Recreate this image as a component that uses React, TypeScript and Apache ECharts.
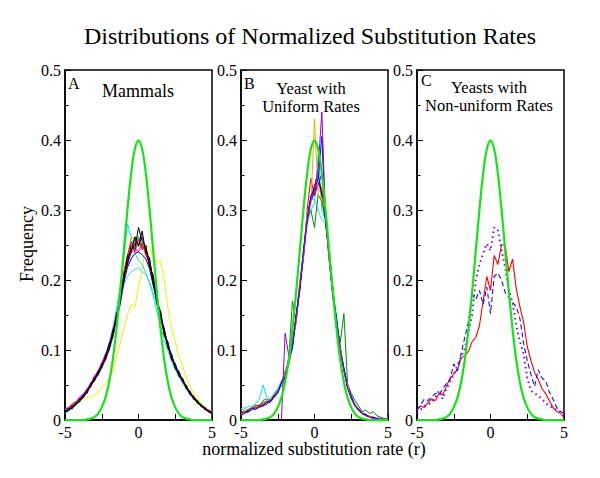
import React, { useEffect, useRef } from "react";
import * as echarts from "echarts";

const FONT = '"Liberation Serif", "Times New Roman", Times, serif';

const TITLE = "Distributions of Normalized Substitution Rates";
const X_NAME = "normalized substitution rate (r)";
const Y_NAME = "Frequency";
const PANEL_LETTERS = ["A", "B", "C"];
const PANEL_TITLES = ["Mammals", "Yeast with\nUniform Rates", "Yeasts with\nNon-uniform Rates"];

const X = [-5, -4.75, -4.5, -4.25, -4, -3.75, -3.5, -3.25, -3, -2.75, -2.5, -2.25, -2, -1.75, -1.5, -1.25, -1, -0.75, -0.5, -0.25, 0, 0.25, 0.5, 0.75, 1, 1.25, 1.5, 1.75, 2, 2.25, 2.5, 2.75, 3, 3.25, 3.5, 3.75, 4, 4.25, 4.5, 4.75, 5];

// standard normal reference curve (green)
const GAUSS = [0, 0, 0, 0, 0, 0, 0.001, 0.002, 0.004, 0.009, 0.018, 0.032, 0.054, 0.086, 0.13, 0.183, 0.242, 0.301, 0.352, 0.387, 0.399, 0.387, 0.352, 0.301, 0.242, 0.183, 0.13, 0.086, 0.054, 0.032, 0.018, 0.009, 0.004, 0.002, 0.001, 0, 0, 0, 0, 0, 0];

// Panel A: mammals
const A_YELLOW = [0.015, 0.02, 0.024, 0.027, 0.028, 0.03, 0.032, 0.033, 0.036, 0.04, 0.046, 0.052, 0.058, 0.07, 0.09, 0.11, 0.13, 0.15, 0.166, 0.16, 0.19, 0.215, 0.25, 0.245, 0.232, 0.225, 0.229, 0.2, 0.16, 0.13, 0.112, 0.09, 0.078, 0.06, 0.048, 0.038, 0.03, 0.024, 0.019, 0.015, 0.012];
const A_TURQ = [0.011, 0.014, 0.018, 0.023, 0.029, 0.035, 0.042, 0.052, 0.061, 0.07, 0.08, 0.093, 0.108, 0.126, 0.148, 0.17, 0.192, 0.205, 0.212, 0.215, 0.218, 0.212, 0.208, 0.198, 0.182, 0.164, 0.146, 0.126, 0.108, 0.092, 0.079, 0.068, 0.058, 0.048, 0.04, 0.033, 0.027, 0.022, 0.017, 0.013, 0.01];
const A_CYAN = [0.009, 0.013, 0.017, 0.021, 0.027, 0.035, 0.041, 0.052, 0.06, 0.071, 0.08, 0.093, 0.11, 0.132, 0.158, 0.19, 0.232, 0.28, 0.262, 0.238, 0.228, 0.222, 0.21, 0.195, 0.178, 0.155, 0.135, 0.115, 0.098, 0.083, 0.072, 0.061, 0.053, 0.044, 0.036, 0.03, 0.024, 0.02, 0.015, 0.012, 0.008];
const A_MAGENTA = [0.016, 0.018, 0.023, 0.026, 0.033, 0.037, 0.045, 0.052, 0.063, 0.07, 0.082, 0.094, 0.108, 0.128, 0.15, 0.176, 0.206, 0.222, 0.238, 0.246, 0.24, 0.252, 0.236, 0.222, 0.194, 0.176, 0.148, 0.13, 0.104, 0.094, 0.075, 0.07, 0.055, 0.05, 0.037, 0.034, 0.025, 0.022, 0.018, 0.014, 0.012];
const A_ORANGE = [0.011, 0.016, 0.018, 0.025, 0.027, 0.035, 0.039, 0.051, 0.056, 0.068, 0.075, 0.091, 0.102, 0.125, 0.142, 0.175, 0.2, 0.232, 0.262, 0.258, 0.25, 0.246, 0.245, 0.23, 0.196, 0.174, 0.148, 0.128, 0.105, 0.092, 0.075, 0.068, 0.055, 0.048, 0.038, 0.033, 0.025, 0.021, 0.016, 0.013, 0.009];
const A_BLUE = [0.01, 0.014, 0.018, 0.022, 0.027, 0.032, 0.04, 0.048, 0.057, 0.064, 0.075, 0.086, 0.1, 0.118, 0.142, 0.165, 0.196, 0.218, 0.23, 0.238, 0.24, 0.236, 0.23, 0.216, 0.192, 0.168, 0.146, 0.124, 0.104, 0.088, 0.075, 0.064, 0.055, 0.046, 0.038, 0.031, 0.025, 0.02, 0.016, 0.013, 0.01];
const A_VIOLET = [0.017, 0.016, 0.022, 0.025, 0.031, 0.036, 0.044, 0.049, 0.062, 0.066, 0.08, 0.088, 0.106, 0.122, 0.15, 0.17, 0.2, 0.226, 0.24, 0.258, 0.25, 0.262, 0.238, 0.224, 0.204, 0.17, 0.155, 0.125, 0.11, 0.09, 0.079, 0.065, 0.059, 0.046, 0.04, 0.033, 0.027, 0.022, 0.017, 0.014, 0.011];
const A_BROWN = [0.012, 0.015, 0.02, 0.022, 0.029, 0.033, 0.041, 0.049, 0.059, 0.066, 0.078, 0.088, 0.105, 0.122, 0.148, 0.17, 0.205, 0.226, 0.246, 0.248, 0.256, 0.246, 0.244, 0.222, 0.202, 0.17, 0.152, 0.124, 0.108, 0.089, 0.078, 0.065, 0.058, 0.046, 0.04, 0.031, 0.027, 0.02, 0.018, 0.012, 0.01];
const A_MAROON = [0.013, 0.016, 0.019, 0.024, 0.028, 0.035, 0.04, 0.051, 0.058, 0.068, 0.077, 0.09, 0.104, 0.124, 0.146, 0.174, 0.203, 0.23, 0.243, 0.252, 0.252, 0.252, 0.242, 0.228, 0.2, 0.174, 0.15, 0.128, 0.107, 0.091, 0.077, 0.067, 0.057, 0.048, 0.039, 0.033, 0.026, 0.022, 0.017, 0.013, 0.01];
const A_RED = [0.014, 0.013, 0.021, 0.021, 0.031, 0.032, 0.043, 0.047, 0.061, 0.064, 0.081, 0.085, 0.11, 0.118, 0.152, 0.165, 0.212, 0.235, 0.255, 0.24, 0.258, 0.243, 0.25, 0.218, 0.208, 0.165, 0.156, 0.12, 0.112, 0.085, 0.081, 0.062, 0.06, 0.044, 0.042, 0.029, 0.028, 0.02, 0.018, 0.011, 0.012];
const A_DKGREEN = [0.011, 0.016, 0.018, 0.024, 0.027, 0.034, 0.039, 0.051, 0.057, 0.068, 0.076, 0.09, 0.103, 0.124, 0.145, 0.173, 0.202, 0.229, 0.242, 0.251, 0.262, 0.249, 0.243, 0.225, 0.201, 0.171, 0.151, 0.125, 0.108, 0.089, 0.078, 0.065, 0.058, 0.046, 0.04, 0.031, 0.027, 0.02, 0.018, 0.012, 0.01];
const A_BLACK2 = [0.013, 0.014, 0.02, 0.022, 0.03, 0.033, 0.042, 0.048, 0.06, 0.065, 0.08, 0.086, 0.108, 0.12, 0.15, 0.168, 0.208, 0.222, 0.25, 0.245, 0.275, 0.255, 0.248, 0.22, 0.205, 0.168, 0.154, 0.122, 0.11, 0.087, 0.08, 0.063, 0.059, 0.045, 0.041, 0.03, 0.028, 0.019, 0.018, 0.012, 0.011];
const A_BLACK = [0.01, 0.017, 0.016, 0.025, 0.026, 0.036, 0.038, 0.053, 0.055, 0.07, 0.074, 0.093, 0.1, 0.128, 0.14, 0.178, 0.198, 0.235, 0.24, 0.262, 0.248, 0.27, 0.238, 0.232, 0.195, 0.178, 0.145, 0.131, 0.103, 0.094, 0.073, 0.069, 0.054, 0.05, 0.036, 0.034, 0.024, 0.022, 0.015, 0.014, 0.008];

// Panel B: yeast, uniform rates
const B_GREY = [0.016, 0.018, 0.014, 0.02, 0.022, 0.018, 0.025, 0.028, 0.03, 0.036, 0.044, 0.056, 0.07, 0.085, 0.112, 0.15, 0.194, 0.236, 0.29, 0.312, 0.326, 0.332, 0.32, 0.286, 0.232, 0.182, 0.142, 0.104, 0.074, 0.049, 0.032, 0.022, 0.015, 0.01, 0.007, 0.005, 0.004, 0.003, 0.002, 0.001, 0.001];
const B_CYAN = [0.014, 0.016, 0.02, 0.018, 0.024, 0.03, 0.05, 0.033, 0.03, 0.038, 0.045, 0.056, 0.06, 0.09, 0.1, 0.15, 0.185, 0.23, 0.28, 0.3, 0.31, 0.38, 0.3, 0.285, 0.245, 0.18, 0.15, 0.098, 0.075, 0.05, 0.034, 0.022, 0.016, 0.01, 0.008, 0.005, 0.004, 0.003, 0.002, 0.001, 0.001];
const B_TURQ = [0.011, 0.012, 0.015, 0.017, 0.02, 0.022, 0.024, 0.026, 0.03, 0.034, 0.042, 0.054, 0.068, 0.085, 0.11, 0.145, 0.188, 0.232, 0.29, 0.315, 0.315, 0.3, 0.285, 0.282, 0.24, 0.185, 0.142, 0.105, 0.074, 0.05, 0.033, 0.023, 0.016, 0.011, 0.008, 0.005, 0.004, 0.003, 0.002, 0.001, 0.001];
const B_DKGREEN = [0.009, 0.013, 0.011, 0.016, 0.021, 0.018, 0.028, 0.03, 0.026, 0.036, 0.042, 0.048, 0.06, 0.088, 0.17, 0.14, 0.188, 0.236, 0.288, 0.3, 0.275, 0.322, 0.312, 0.286, 0.238, 0.19, 0.14, 0.11, 0.152, 0.052, 0.038, 0.028, 0.02, 0.012, 0.014, 0.009, 0.012, 0.006, 0.004, 0.002, 0.001];
const B_MAGENTA = [0.008, 0.011, 0.013, 0.015, 0.018, 0.02, 0.022, 0.025, 0.028, 0.033, 0.04, 0.053, 0.066, 0.084, 0.11, 0.148, 0.195, 0.24, 0.29, 0.32, 0.328, 0.34, 0.322, 0.29, 0.23, 0.178, 0.138, 0.1, 0.07, 0.047, 0.031, 0.021, 0.014, 0.01, 0.007, 0.005, 0.003, 0.002, 0.001, 0.001, 0];
const B_RED = [0.012, 0.011, 0.015, 0.017, 0.02, 0.021, 0.024, 0.026, 0.03, 0.034, 0.042, 0.05, 0.068, 0.08, 0.112, 0.14, 0.196, 0.232, 0.3, 0.345, 0.32, 0.338, 0.33, 0.294, 0.236, 0.182, 0.138, 0.104, 0.073, 0.049, 0.033, 0.022, 0.015, 0.01, 0.007, 0.005, 0.004, 0.002, 0.002, 0.001, 0.001];
const B_BLACK = [0.01, 0.012, 0.014, 0.016, 0.018, 0.02, 0.022, 0.025, 0.028, 0.033, 0.041, 0.051, 0.064, 0.083, 0.106, 0.146, 0.19, 0.236, 0.292, 0.316, 0.335, 0.35, 0.322, 0.288, 0.234, 0.178, 0.141, 0.101, 0.072, 0.047, 0.032, 0.021, 0.015, 0.01, 0.007, 0.005, 0.003, 0.002, 0.001, 0.001, 0];
const B_INDIGO = [0.007, 0.01, 0.012, 0.015, 0.016, 0.018, 0.02, 0.023, 0.026, 0.031, 0.039, 0.051, 0.064, 0.08, 0.106, 0.142, 0.19, 0.236, 0.288, 0.312, 0.326, 0.336, 0.352, 0.292, 0.23, 0.18, 0.142, 0.103, 0.071, 0.048, 0.031, 0.022, 0.014, 0.009, 0.006, 0.005, 0.003, 0.002, 0.001, 0, 0];
const B_ORANGE = [0.008, 0.012, 0.016, 0.015, 0.019, 0.019, 0.023, 0.025, 0.03, 0.031, 0.041, 0.05, 0.066, 0.08, 0.11, 0.142, 0.198, 0.234, 0.296, 0.305, 0.43, 0.32, 0.318, 0.296, 0.226, 0.185, 0.136, 0.104, 0.07, 0.05, 0.03, 0.024, 0.014, 0.011, 0.006, 0.006, 0.002, 0.003, 0.001, 0.001, 0];
const B_BLUE = [0.006, 0.01, 0.012, 0.017, 0.015, 0.02, 0.02, 0.026, 0.026, 0.034, 0.038, 0.054, 0.062, 0.086, 0.104, 0.15, 0.186, 0.244, 0.282, 0.32, 0.33, 0.345, 0.405, 0.28, 0.236, 0.176, 0.146, 0.098, 0.074, 0.046, 0.034, 0.02, 0.016, 0.009, 0.008, 0.004, 0.003, 0.002, 0.001, 0, 0];
const B_PURPLE = [null, null, null, null, null, null, null, null, null, null, null, 0, 0.124, 0.092, 0.112, 0.148, 0.192, 0.24, 0.288, 0.315, 0.33, 0.36, 0.44, 0.29, 0.228, 0.176, 0.138, 0.1, 0.07, 0.046, 0.03, 0.02, 0.013, 0.009, 0.006, 0.004, 0.002, 0.001, 0, 0, 0];

// Panel C: yeasts, non-uniform rates
const C_RED = [0.015, 0.02, 0.018, 0.025, 0.03, 0.028, 0.038, 0.036, 0.048, 0.06, 0.066, 0.072, 0.088, 0.092, 0.098, 0.112, 0.118, 0.135, 0.17, 0.205, 0.185, 0.235, 0.222, 0.25, 0.25, 0.212, 0.23, 0.188, 0.162, 0.14, 0.105, 0.085, 0.068, 0.058, 0.045, 0.038, 0.028, 0.018, 0.012, 0.01, 0.003];
const C_BLUE = [0.014, 0.022, 0.03, 0.028, 0.033, 0.038, 0.036, 0.045, 0.052, 0.058, 0.08, 0.07, 0.095, 0.118, 0.14, 0.18, 0.172, 0.185, 0.165, 0.19, 0.152, 0.205, 0.21, 0.2, 0.182, 0.175, 0.168, 0.162, 0.145, 0.11, 0.085, 0.065, 0.048, 0.072, 0.06, 0.056, 0.04, 0.03, 0.018, 0.012, 0.01];
const C_PURPLE = [0.01, 0.015, 0.02, 0.022, 0.025, 0.032, 0.042, 0.03, 0.045, 0.055, 0.065, 0.078, 0.09, 0.102, 0.125, 0.15, 0.2, 0.222, 0.238, 0.252, 0.242, 0.275, 0.272, 0.243, 0.218, 0.185, 0.168, 0.135, 0.112, 0.095, 0.06, 0.042, 0.038, 0.035, 0.03, 0.024, 0.02, 0.018, 0.014, 0.012, 0.006];

const pairs = (ys: (number | null)[]) => X.map((x, i) => [x, ys[i] === null ? "-" : ys[i]]);

const thin = (ys: (number | null)[], color: string, gi: number, extra: any = {}) => ({
  type: "line",
  xAxisIndex: gi,
  yAxisIndex: gi,
  data: pairs(ys),
  symbol: "none",
  silent: true,
  lineStyle: { color, width: 1, ...extra },
});

const green = (gi: number) => ({
  type: "line",
  xAxisIndex: gi,
  yAxisIndex: gi,
  data: pairs(GAUSS),
  symbol: "none",
  silent: true,
  smooth: 0.4,
  lineStyle: { color: "#14e614", width: 2.2 },
});

const GRID_LEFTS = [65, 241, 417];
const GRID_W = 147;
const GRID_TOP = 70;
const GRID_H = 350;

export default function App() {
  const ref = useRef<HTMLDivElement>(null);
  useEffect(() => {
    if (!ref.current) return;
    const chart = echarts.init(ref.current, null, { renderer: "svg" });
    const grid = GRID_LEFTS.map((l) => ({
      left: l,
      top: GRID_TOP,
      width: GRID_W,
      height: GRID_H,
      show: true,
      borderColor: "#000",
      borderWidth: 1.5,
      backgroundColor: "transparent",
    }));
    const xAxis = GRID_LEFTS.map((_, i) => ({
      type: "value",
      gridIndex: i,
      min: -5,
      max: 5,
      interval: 5,
      axisLine: { show: true, onZero: false, lineStyle: { color: "#000", width: 1.5 } },
      axisTick: { show: true, inside: true, length: 6, lineStyle: { color: "#000", width: 1 } },
      minorTick: { show: true, splitNumber: 2, length: 6, lineStyle: { color: "#000", width: 1 } },
      splitLine: { show: false },
      minorSplitLine: { show: false },
      axisLabel: { color: "#000", fontSize: 16, fontFamily: FONT, margin: 4 },
    }));
    const yAxis = GRID_LEFTS.map((_, i) => ({
      type: "value",
      gridIndex: i,
      min: 0,
      max: 0.5,
      interval: 0.1,
      axisLine: { show: true, onZero: false, lineStyle: { color: "#000", width: 1.5 } },
      axisTick: { show: true, inside: true, length: 6, lineStyle: { color: "#000", width: 1 } },
      minorTick: { show: true, splitNumber: 2, length: 3.5, lineStyle: { color: "#000", width: 1 } },
      splitLine: { show: false },
      minorSplitLine: { show: false },
      axisLabel: { color: "#000", fontSize: 16, fontFamily: FONT, margin: 4 },
    }));
    const series: any[] = [
      thin(A_YELLOW, "#f2f200", 0),
      thin(A_TURQ, "#40e0d0", 0),
      thin(A_CYAN, "#00e5ee", 0),
      thin(A_MAGENTA, "#ff00ff", 0),
      thin(A_ORANGE, "#ffa500", 0),
      thin(A_BLUE, "#0000ff", 0),
      thin(A_VIOLET, "#9400d3", 0),
      thin(A_BROWN, "#a0522d", 0),
      thin(A_MAROON, "#b03060", 0),
      thin(A_RED, "#ff0000", 0),
      thin(A_DKGREEN, "#008b00", 0),
      thin(A_BLACK2, "#000000", 0),
      thin(A_BLACK, "#000000", 0),
      green(0),
      thin(B_GREY, "#b4b4b4", 1),
      thin(B_CYAN, "#00e5ee", 1),
      thin(B_TURQ, "#40e0d0", 1),
      thin(B_DKGREEN, "#008b00", 1),
      thin(B_MAGENTA, "#ff00ff", 1),
      thin(B_RED, "#ff0000", 1),
      thin(B_BLACK, "#000000", 1),
      thin(B_INDIGO, "#3a0dbf", 1),
      thin(B_ORANGE, "#ffa500", 1),
      thin(B_BLUE, "#0000ff", 1),
      thin(B_PURPLE, "#9400d3", 1),
      green(1),
      thin(C_RED, "#ff0000", 2, { width: 1.1 }),
      thin(C_BLUE, "#1010ff", 2, { width: 1.1, type: [5, 3] }),
      thin(C_PURPLE, "#9400d3", 2, { width: 2, type: [1.5, 3.5] }),
      green(2),
    ];
    const txt = (text: string, x: number, y: number, size: number, align = "center", extra: any = {}) => ({
      type: "text",
      x,
      y,
      silent: true,
      ...extra,
      style: { text, fontSize: size, fontFamily: FONT, fill: "#000", align, verticalAlign: "middle", lineHeight: 18.5 },
    });
    const graphic: any[] = [
      txt(TITLE, 310, 36, 24),
      txt(X_NAME, 314, 449, 18),
      txt(Y_NAME, 27, 244, 18, "center", { rotation: Math.PI / 2 }),
      txt(PANEL_LETTERS[0], 68, 83, 16, "left"),
      txt(PANEL_LETTERS[1], 244, 83, 16, "left"),
      txt(PANEL_LETTERS[2], 421, 80, 16, "left"),
      txt(PANEL_TITLES[0], 138, 91, 18),
      txt(PANEL_TITLES[1], 311, 97.5, 16.5),
      txt(PANEL_TITLES[2], 489, 96.5, 16.5),
    ];
    chart.setOption({
      animation: false,
      backgroundColor: "#fff",
      grid,
      xAxis,
      yAxis,
      series,
      graphic,
    });
    return () => chart.dispose();
  }, []);
  return <div ref={ref} style={{ position: "fixed", left: 0, top: 0, width: 600, height: 478 }} />;
}
